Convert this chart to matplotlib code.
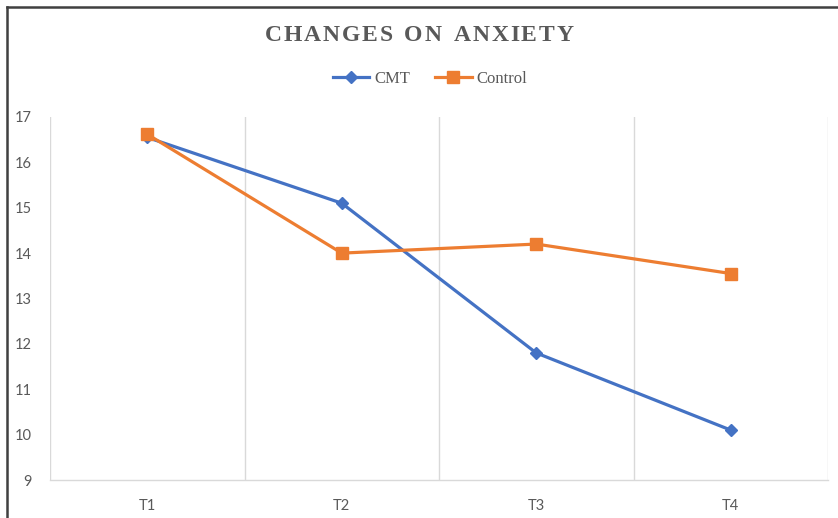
import matplotlib
matplotlib.use("Agg")
import matplotlib.pyplot as plt
from matplotlib.lines import Line2D

# data
times = ["T1", "T2", "T3", "T4"]
cmt = [16.55, 15.1, 11.8, 10.1]
control = [16.62, 14.0, 14.2, 13.55]
y_ticks = list(range(9, 18))

blue = "#4472C4"
orange = "#ED7D31"
grid = "#D9D9D9"
text_gray = "#595959"

fig = plt.figure(figsize=(8.38, 5.18), dpi=100)
ax = fig.add_axes([50 / 838, 38 / 518, 778 / 838, 363 / 518])

x = list(range(len(times)))
ax.plot(x, cmt, color=blue, lw=2.3, marker="D", ms=6.5, label="CMT", zorder=3)
ax.plot(x, control, color=orange, lw=2.3, marker="s", ms=8, label="Control", zorder=3)

ax.set_xlim(-0.5, len(times) - 0.5)
ax.set_ylim(9, 17)
ax.set_yticks(y_ticks)
ax.set_xticks(x)
ax.set_xticklabels(times)

# vertical gridlines at category boundaries
for b in range(len(times) + 1):
    ax.axvline(b - 0.5, color=grid, lw=1, zorder=1)

for s in ["top", "right", "left"]:
    ax.spines[s].set_visible(False)
ax.spines["bottom"].set_color(grid)
ax.spines["bottom"].set_linewidth(1)

ax.tick_params(axis="both", length=0, colors=text_gray, labelsize=10.5)
ax.tick_params(axis="y", pad=13)
ax.tick_params(axis="x", pad=14)
for lab in ax.get_xticklabels() + ax.get_yticklabels():
    lab.set_family("Lato")

# letter-spaced title, placed char by char
title = "CHANGES ON ANXIETY"
fig.canvas.draw()
renderer = fig.canvas.get_renderer()
spacing = 1.9
widths = []
for ch in title:
    t = fig.text(0, 0, ch if ch != " " else "n", family="Liberation Serif",
                 weight="bold", size=17)
    w = t.get_window_extent(renderer).width
    if ch == " ":
        w *= 0.6
    widths.append(w)
    t.remove()
total = sum(widths) + spacing * (len(title) - 1)
xpos = 419 - total / 2
for ch, w in zip(title, widths):
    fig.text(xpos / 838, 1 - 41 / 518, ch, family="Liberation Serif", weight="bold",
             size=17, color=text_gray, ha="left", va="baseline")
    xpos += w + spacing

ax.legend(loc="center", bbox_to_anchor=(430 / 838, 1 - 79 / 518),
          bbox_transform=fig.transFigure, ncol=2, frameon=False,
          prop={"family": "Liberation Serif", "size": 12},
          handlelength=2.2, handletextpad=0.3, columnspacing=1.5,
          labelcolor=text_gray)

# outer frame edges visible at top and left
fig.add_artist(Line2D([7 / 838, 1], [1 - 7 / 518, 1 - 7 / 518], color="#404040", lw=1.8))
fig.add_artist(Line2D([7 / 838, 7 / 838], [0, 1 - 7 / 518], color="#404040", lw=1.8))

fig.savefig("out.png", dpi=100)
